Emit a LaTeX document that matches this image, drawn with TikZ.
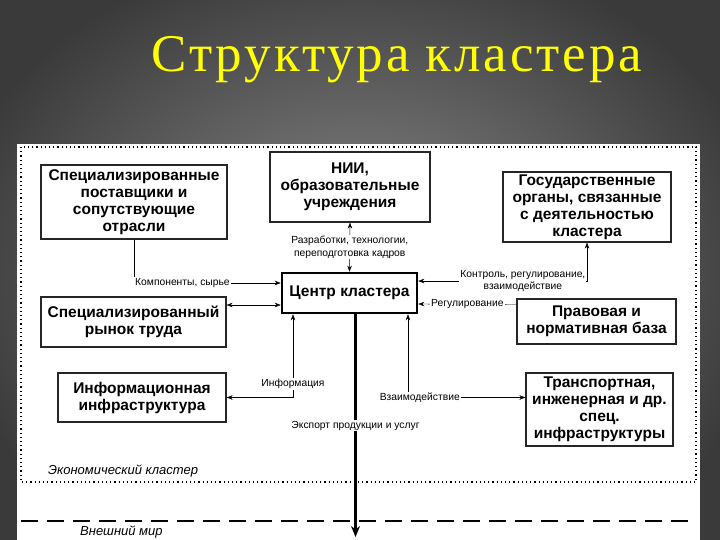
\documentclass[tikz,border=0pt]{standalone}
\usepackage{fontspec}
\setmainfont{Liberation Sans}
\newfontfamily\titlefont[LetterSpace=5.5]{Liberation Serif}
\usetikzlibrary{arrows.meta, positioning}
\definecolor{bgdark}{RGB}{58,58,58}
\definecolor{bglight}{RGB}{138,138,138}
\definecolor{titleyellow}{RGB}{255,255,0}

\begin{document}
\begin{tikzpicture}[x=1pt, y=-1pt, >={Stealth[length=6pt, width=4.5pt]},
        box/.style={rectangle, draw=black!85, line width=1.2pt, fill=white, align=center, inner sep=2pt, font=\fontsize{15.5}{17}\selectfont\bfseries},
        hub/.style={box, draw=black, line width=2.6pt},
        lbl/.style={fill=white, inner sep=1pt, align=center, font=\fontsize{10.3}{12.3}\selectfont},
        zone/.style={anchor=west, inner sep=0pt, font=\fontsize{13}{15}\selectfont\itshape}]

    \useasboundingbox (0,0) rectangle (720,540);
    \shade[inner color=bglight, outer color=bgdark] (-60,-60) rectangle (780,600);
    \fill[white] (17,144) rectangle (700,540);

    % title
    \node (title) [text=titleyellow, font=\titlefont\fontsize{53}{60}\selectfont] at (397,60) {Структура кластера};

    % cluster borders
    \draw[line width=1.2pt, dash pattern=on 1.2pt off 3pt] (21,147) rectangle (696,482);
    \draw[line width=2.6pt, dash pattern=on 17pt off 9pt] (21,521) -- (690,521);
    \node (cl) [zone] at (48,471) {Экономический кластер};
    \node (ext) [zone] at (80,532) {Внешний мир};

    % blocks
    \node (ctr) [hub, minimum width=135pt, minimum height=40pt] at (349.5,293) {Центр кластера};
    \node (sup) [box, minimum width=186pt, minimum height=74pt] at (134,202) {Специализированные\\поставщики и\\сопутствующие\\отрасли};
    \node (nii) [box, minimum width=160pt, minimum height=70pt] at (350,187) {НИИ,\\образовательные\\учреждения};
    \node (gov) [box, minimum width=168pt, minimum height=70pt] at (587,207) {Государственные\\органы, связанные\\с деятельностью\\кластера};
    \node (lab) [box, minimum width=185pt, minimum height=50pt] at (133.5,322) {Специализированный\\рынок труда};
    \node (inf) [box, minimum width=168pt, minimum height=49pt] at (142,397.5) {Информационная\\инфраструктура};
    \node (law) [box, minimum width=159pt, minimum height=45pt] at (596.5,321.5) {Правовая и\\нормативная база};
    \node (trn) [box, minimum width=147pt, minimum height=73pt] at (599.5,409.5) {Транспортная,\\инженерная и др.\\спец.\\инфраструктуры};
    \coordinate (exp) at (355.5,537);

    % links
    \draw[->] (sup.south) |- node[lbl, pos=0.5, anchor=west] {Компоненты, сырье} ([yshift=10pt]ctr.west);
    \draw[<->] ([yshift=17pt]lab.east) -- ([yshift=-12pt]ctr.west);
    \draw[<->] (nii.south) -- node[lbl] {Разработки, технологии,\\переподготовка кадров} (ctr.north);
    \draw[<->] (gov.south) |- node[lbl, pos=0.69] {Контроль, регулирование,\\взаимодействие} ([yshift=12pt]ctr.east);
    \draw[->] ([yshift=17pt]law.west) -- node[lbl] {Регулирование} ([yshift=-11pt]ctr.east);
    \draw[<->] ([xshift=-56.5pt]ctr.south) |- node[lbl, pos=0.42] {Информация} (inf.east);
    \draw[<->] ([xshift=58.5pt]ctr.south) |- node[lbl, pos=0.55] {Взаимодействие} ([yshift=12pt]trn.west);
    \draw[->, line width=2.4pt, >={Stealth[length=11pt, width=9pt]}] ([xshift=6pt]ctr.south) -- node[lbl] {Экспорт продукции и услуг} (exp);
\end{tikzpicture}
\end{document}
